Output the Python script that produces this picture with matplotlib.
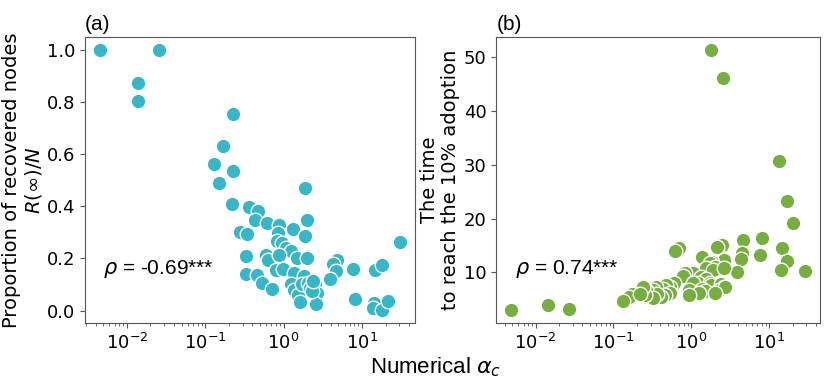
import numpy as np
import matplotlib
matplotlib.use("Agg")
import matplotlib.pyplot as plt

# panel (a): log10(alpha_c) and R(inf)/N
log_alpha_a = [-2.346, -1.593, -1.857, -1.857, -0.644, -0.771, -0.890, -0.644, -0.822, -0.656,
               0.272, -0.439, -0.324, -0.367, -0.217, 0.294, -0.060, 0.123, -0.558, -0.465,
               -0.069, 0.272, -0.082, -0.026, 0.026, 0.093, -0.485, -0.230, -0.204, -0.056,
               0.166, 0.301, 0.677, 0.634, -0.098, -0.005, 0.132, 0.889, 1.166, 1.252,
               1.485, -0.473, -0.345, 0.664, 0.263, -0.273, -0.153, 0.093, 0.132, 0.186,
               0.208, 0.230, 0.314, 0.400, 0.429, 0.409, 0.336, 0.358, 0.378, 0.591,
               0.911, 1.153, 1.144, 1.252, 1.328]
recovered = [1.000, 1.000, 0.872, 0.806, 0.754, 0.630, 0.562, 0.536, 0.489, 0.410,
             0.470, 0.396, 0.383, 0.346, 0.336, 0.349, 0.330, 0.314, 0.302, 0.295,
             0.298, 0.285, 0.268, 0.259, 0.240, 0.227, 0.208, 0.215, 0.195, 0.215,
             0.202, 0.202, 0.195, 0.179, 0.154, 0.160, 0.144, 0.160, 0.157, 0.174,
             0.264, 0.142, 0.135, 0.151, 0.134, 0.106, 0.083, 0.100, 0.080, 0.061,
             0.032, 0.100, 0.106, 0.100, 0.068, 0.026, 0.087, 0.074, 0.115, 0.121,
             0.045, 0.027, 0.010, 0.001, 0.038]

# panel (b): log10(alpha_c) and time to 10% adoption
log_alpha_b = [-2.315, -1.841, -1.568, 0.258, 0.400, 1.127, 1.232, 1.304, 0.904, 0.665,
               0.654, 0.636, 0.875, 1.161, 1.232, 1.149, 1.463, 0.582, -0.154, -0.204,
               0.393, 0.330, 0.132, 0.413, 0.267, 0.233, 0.300, 0.183, 0.275, 0.413,
               0.015, -0.078, -0.111, 0.120, 0.183, 0.091, 0.015, 0.233, 0.246, 0.384,
               0.413, -0.028, 0.141, 0.174, 0.098, -0.028, 0.350, 0.426, 0.309, -0.229,
               -0.280, -0.330, -0.363, -0.280, -0.343, -0.384, -0.456, -0.489, -0.447, -0.582,
               -0.623, -0.649, -0.497, -0.594, -0.762, -0.804, -0.875, -0.627, -0.657]
adopt_time = [3.0, 4.06, 3.25, 51.2, 46.0, 30.7, 23.2, 19.2, 16.4, 16.1,
              13.7, 12.5, 13.3, 14.45, 12.1, 10.55, 10.3, 10.1, 14.45, 14.0,
              15.1, 14.75, 12.9, 12.4, 11.97, 11.67, 11.04, 10.74, 10.43, 10.74,
              9.93, 9.81, 9.31, 9.07, 8.70, 8.07, 7.96, 7.96, 7.64, 7.83,
              7.33, 6.72, 7.03, 6.59, 6.22, 5.79, 6.72, 7.22, 6.22, 7.96,
              7.33, 7.64, 7.03, 6.22, 5.79, 5.47, 7.33, 6.72, 6.10, 6.72,
              7.46, 6.72, 5.29, 5.79, 5.92, 5.47, 4.73, 7.33, 6.10]

teal = '#36b6c6'
green = '#76ae40'
spine_col = '#555555'
label_font = ['Liberation Sans', 'DejaVu Sans']

fig = plt.figure(figsize=(8.3, 3.83), dpi=100)
ax1 = fig.add_axes([0.102, 0.156, 0.398, 0.747])
ax2 = fig.add_axes([0.598, 0.156, 0.390, 0.747])

ax1.scatter(10 ** np.array(log_alpha_a), recovered, s=110, color=teal,
            edgecolors='white', linewidths=1.0, zorder=3)
ax2.scatter(10 ** np.array(log_alpha_b), adopt_time, s=110, color=green,
            edgecolors='white', linewidths=1.0, zorder=3)

for ax in (ax1, ax2):
    ax.set_xscale('log')
    ax.tick_params(axis='both', which='both', labelsize=13, color=spine_col, labelcolor='black')
    for sp in ax.spines.values():
        sp.set_color(spine_col)

ax1.set_yticks([0.0, 0.2, 0.4, 0.6, 0.8, 1.0])
ax2.set_yticks([10, 20, 30, 40, 50])

ax1.set_ylabel('Proportion of recovered nodes\n$R(\\infty)/N$', fontsize=14,
               linespacing=1.1, labelpad=2)
ax2.set_ylabel('The time\nto reach the 10% adoption', fontsize=14,
               linespacing=1.1, labelpad=3)

ax1.text(0.055, 0.19, '$\\rho$ = -0.69***', transform=ax1.transAxes,
         fontsize=15, family=label_font, va='center', ha='left')
ax2.text(0.057, 0.19, '$\\rho$ = 0.74***', transform=ax2.transAxes,
         fontsize=15, family=label_font, va='center', ha='left')

ax1.text(0.0, 1.012, '(a)', transform=ax1.transAxes, fontsize=15,
         family=label_font, ha='left', va='bottom')
ax2.text(0.0, 1.012, '(b)', transform=ax2.transAxes, fontsize=15,
         family=label_font, ha='left', va='bottom')

fig.text(0.525, 0.04, 'Numerical $\\alpha_c$', fontsize=16, family=label_font,
         ha='center', va='center')

fig.savefig('out.png', dpi=100)
